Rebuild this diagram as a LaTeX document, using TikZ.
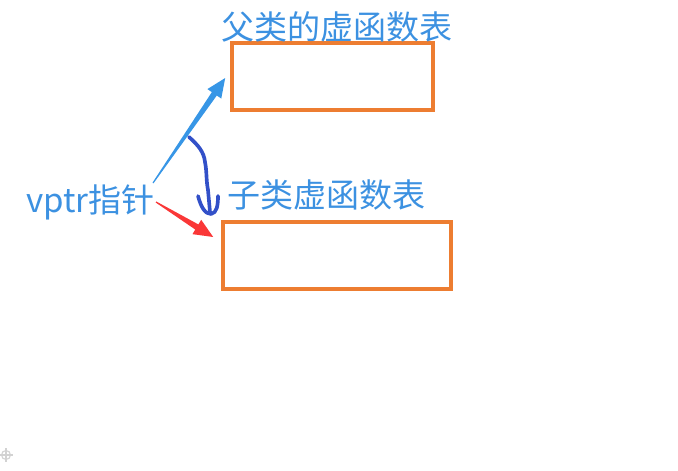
\documentclass[tikz,border=0pt]{standalone}
\usepackage{fontspec}
\setmainfont{Noto Sans CJK SC}
\usetikzlibrary{calc}
\definecolor{boxorange}{RGB}{237,125,49}
\definecolor{textblue}{RGB}{60,145,225}
\definecolor{arrowblue}{RGB}{55,150,230}
\definecolor{arrowred}{RGB}{250,55,55}
\definecolor{curveblue}{RGB}{50,80,200}
% tapered arrow: tail, tip, colour
\newcommand{\taperarrow}[3]{%
  \coordinate (hb) at ($(#2)!0.48cm!(#1)$);
  \fill[#3] ($(#1)!0.015cm!90:(#2)$) -- ($(hb)!0.075cm!90:(#2)$) -- ($(hb)!0.21cm!90:(#2)$)
    -- (#2) -- ($(hb)!0.21cm!-90:(#2)$) -- ($(hb)!0.075cm!-90:(#2)$) -- ($(#1)!0.015cm!-90:(#2)$) -- cycle;}

\begin{document}
\begin{tikzpicture}[x=0.025cm,y=-0.025cm,
  vtbox/.style={draw=boxorange, line width=2.5pt, minimum height=1.675cm, inner sep=0pt},
  caption/.style={text=textblue, font=\fontsize{23.5}{28}\selectfont, inner sep=0pt}]
\useasboundingbox (0,0) rectangle (678,470);
% the two tables
\node[vtbox, minimum width=5.025cm] (parentvt) at (332.5,76.5) {};
\node[vtbox, minimum width=5.7cm] (childvt) at (337,255.5) {};
\node[caption, anchor=west] (parenttitle) at (221,27) {父类的虚函数表};
\node[caption, anchor=west] (childtitle) at (227,195) {子类虚函数表};
\node[caption, anchor=east] (vptr) at (155,202) {vptr指针};
% pointer arrows
\coordinate (bluetail) at ($(vptr.east)+(-2,-19)$);
\coordinate (bluetip) at ($(parentvt.west)+(-5,1.5)$);
\coordinate (redtail) at ($(vptr.east)+(1,0)$);
\coordinate (redtip) at ($(childvt.west)+(-8,-18.5)$);
\taperarrow{bluetail}{bluetip}{arrowblue}
\taperarrow{redtail}{redtip}{arrowred}
% hand drawn hook
\draw[curveblue, line width=2.6pt, line cap=round, line join=round]
  (189,137) .. controls (198,145) and (204,152) .. (205,162)
  .. controls (207,172) and (206,180) .. (208,190) -- (210,212);
\draw[curveblue, line width=2.6pt, line cap=round, line join=round]
  (198,196) .. controls (201,207) and (205,214) .. (211,214)
  .. controls (217,213) and (218,205) .. (218,196);
% anchor mark
\draw[gray!35, line width=0.8pt] (6,455) circle (4.5);
\draw[gray!35, line width=0.8pt] (6,448) -- (6,462) (-1,455) -- (13,455);
\end{tikzpicture}
\end{document}
